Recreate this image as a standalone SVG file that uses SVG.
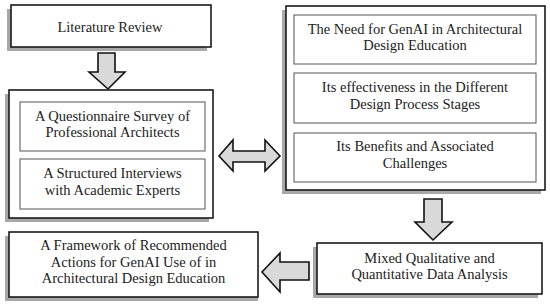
<svg xmlns="http://www.w3.org/2000/svg" width="550" height="305" viewBox="0 0 550 305">
<style>
.sh{fill:#a8a8a8;stroke:none}
.box{fill:#fff;stroke:#1a1a1a;stroke-width:1.6}
.inner{fill:#fff;stroke:#555;stroke-width:1}
.arr{fill:#d9d9d9;stroke:#111;stroke-width:1.6;stroke-linejoin:miter}
text{font-family:'Liberation Serif','DejaVu Serif',serif;font-size:14.5px;fill:#222;text-anchor:middle}
</style>
<rect width="550" height="305" fill="#fff"/>
<g id="lit">
<rect class="sh" x="7" y="9" width="200" height="42"/>
<rect class="box" x="11" y="5" width="200" height="42"/>
<text x="110" y="32">Literature Review</text>
</g>
<g id="left-group">
<rect class="sh" x="5" y="94" width="204" height="128"/>
<rect class="box" x="9" y="90" width="204" height="128"/>
<g id="survey">
<rect class="inner" x="20" y="102" width="185" height="49"/>
<text x="112.5" y="120.5">A Questionnaire Survey of</text>
<text x="112.5" y="137">Professional Architects</text>
</g>
<g id="interviews">
<rect class="inner" x="20" y="159" width="185" height="50"/>
<text x="112.5" y="178">A Structured Interviews</text>
<text x="112.5" y="194.5">with Academic Experts</text>
</g>
</g>
<g id="right-group">
<rect class="sh" x="282" y="10" width="259" height="184"/>
<rect class="box" x="286" y="6" width="259" height="184"/>
<g id="need">
<rect class="inner" x="294" y="15" width="242" height="49"/>
<text x="415" y="33.5">The Need for GenAI in Architectural</text>
<text x="415" y="50">Design Education</text>
</g>
<g id="effect">
<rect class="inner" x="294" y="73" width="242" height="50"/>
<text x="415" y="92">Its effectiveness in the Different</text>
<text x="415" y="108.5">Design Process Stages</text>
</g>
<g id="benefits">
<rect class="inner" x="294" y="133" width="242" height="49"/>
<text x="415" y="151">Its Benefits and Associated</text>
<text x="415" y="167.5">Challenges</text>
</g>
</g>
<g id="mixed">
<rect class="sh" x="313" y="247" width="225" height="51"/>
<rect class="box" x="317" y="243" width="225" height="51"/>
<text x="429.5" y="262.5">Mixed Qualitative and</text>
<text x="429.5" y="279">Quantitative Data Analysis</text>
</g>
<g id="framework">
<rect class="sh" x="5" y="236" width="253" height="65"/>
<rect class="box" x="9" y="232" width="249" height="65"/>
<text x="133.5" y="250">A Framework of Recommended</text>
<text x="133.5" y="266.5">Actions for GenAI Use of in</text>
<text x="133.5" y="283">Architectural Design Education</text>
</g>
<g id="connectors">
<polygon class="arr" points="98,53 115,53 115,72 125,72 108,89 89,72 98,72"/>
<polygon class="arr" points="219,156 233,140 233,151 265,151 265,140 280,156 265,171 265,162 233,162 233,171"/>
<polygon class="arr" points="424,199 442,199 442,222 452,222 433,240 415,222 424,222"/>
<polygon class="arr" points="309,262 309,280 280,280 280,292 262,272 280,253 280,262"/>
</g>
</svg>
